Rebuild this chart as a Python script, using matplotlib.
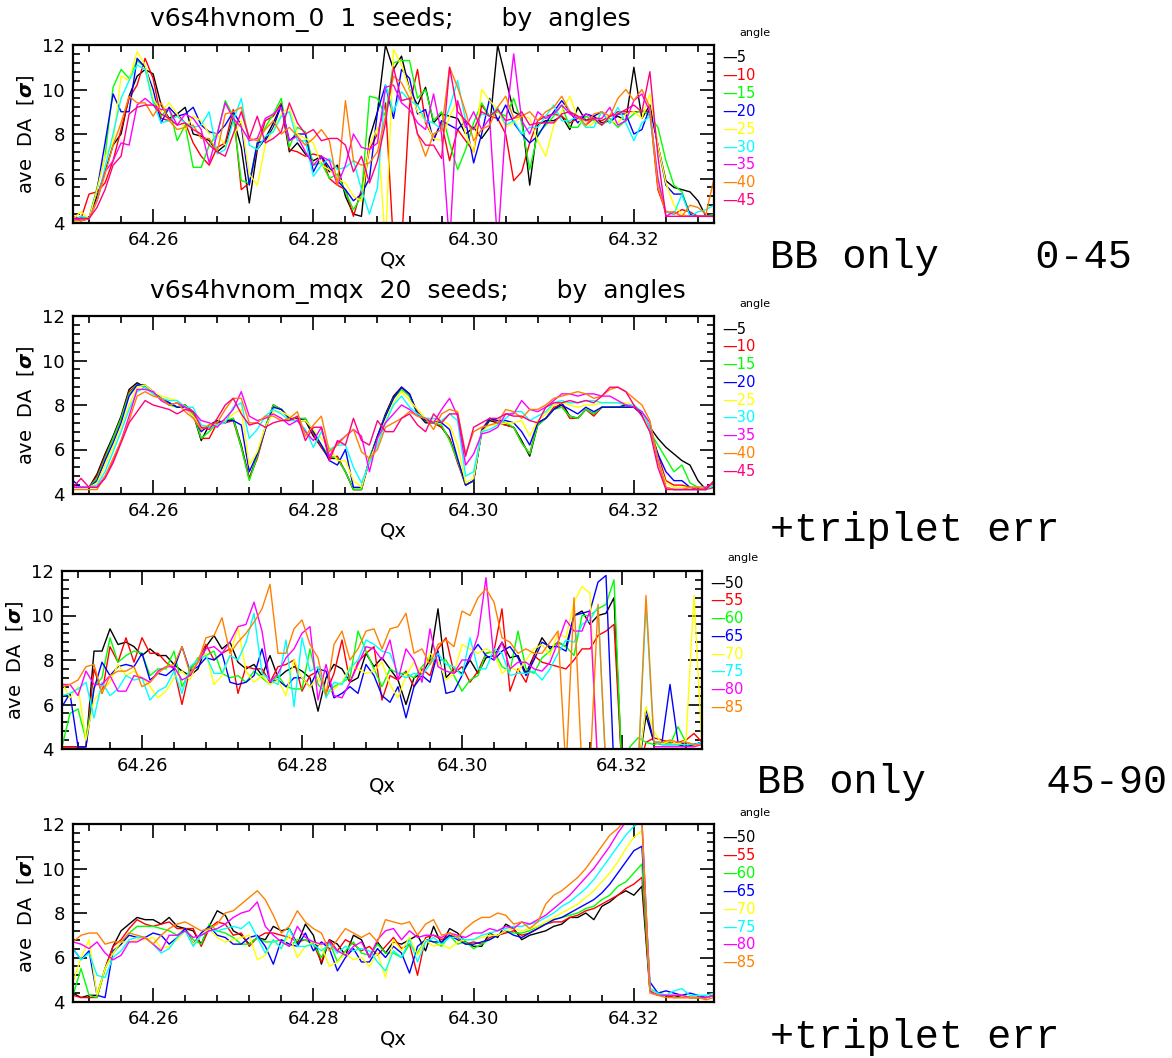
import numpy as np
import matplotlib.pyplot as plt
from matplotlib.ticker import MultipleLocator, FormatStrFormatter

W, H = 1172, 1058

qx = np.linspace(64.25, 64.33, 81)

angles_lo = ['5', '10', '15', '20', '25', '30', '35', '40', '45']
angles_hi = ['50', '55', '60', '65', '70', '75', '80', '85']
colors = ['#000000', '#ff0000', '#00ff00', '#0000ff', '#ffff00',
          '#00ffff', '#ff00ff', '#ff8000', '#ff0080']

# ---- BB only, angles 0-45 (1 seed)
bb_lo_05 = [4.2, 4.1, 4.2, 5.2, 6.3, 7.5, 8.0, 9.7, 10.6, 10.9,
            10.7, 9.3, 8.7, 8.9, 9.2, 8.0, 7.9, 7.7, 7.2, 7.5,
            8.7, 7.4, 4.9, 7.3, 7.8, 8.5, 9.3, 7.2, 7.6, 7.1,
            6.8, 7.0, 6.3, 6.6, 5.2, 4.4, 4.3, 7.8, 9.0, 12.0,
            10.9, 11.5, 10.0, 9.3, 10.1, 8.5, 8.9, 8.8, 8.7, 8.0,
            8.3, 7.8, 8.3, 12.0, 10.5, 9.0, 8.8, 5.7, 8.4, 8.6,
            8.6, 8.8, 8.2, 9.2, 8.6, 8.8, 8.5, 8.6, 8.8, 8.6,
            11.0, 8.7, 9.3, 7.5, 5.9, 5.6, 5.5, 5.4, 5.0, 4.3, 4.3]
bb_lo_10 = [4.3, 4.2, 5.3, 5.4, 5.8, 6.8, 8.2, 9.6, 10.2, 11.4,
            10.5, 8.7, 8.6, 8.9, 8.5, 7.6, 7.0, 6.6, 7.4, 7.6,
            9.1, 5.5, 5.8, 7.4, 8.6, 8.8, 9.4, 7.3, 7.2, 7.0,
            7.1, 7.0, 6.0, 5.7, 5.5, 4.3, 5.5, 7.3, 8.0, 9.4,
            3.0, 3.0, 9.3, 10.9, 8.5, 7.8, 8.5, 6.8, 8.2, 7.7,
            7.2, 9.3, 8.8, 8.7, 8.0, 5.9, 6.3, 7.6, 8.6, 8.8,
            8.9, 8.8, 8.5, 8.7, 8.4, 8.7, 8.6, 8.8, 9.0, 9.0,
            9.0, 9.0, 9.0, 5.5, 4.5, 4.4, 4.6, 4.5, 4.3, 4.3, 4.3]
bb_lo_15 = [4.1, 4.3, 4.2, 5.6, 7.0, 10.1, 10.9, 10.5, 11.3, 11.0,
            9.5, 8.8, 9.2, 7.7, 8.4, 6.5, 6.5, 7.5, 8.0, 9.5,
            8.8, 5.9, 5.8, 7.6, 8.3, 8.9, 9.6, 7.4, 8.3, 8.1,
            6.6, 6.7, 6.0, 6.2, 5.4, 4.6, 5.2, 9.7, 9.6, 8.8,
            11.2, 11.3, 11.3, 9.6, 10.0, 8.6, 9.0, 7.6, 6.4, 7.3,
            8.5, 9.4, 8.8, 9.0, 8.8, 9.6, 8.5, 6.4, 8.0, 8.4,
            8.8, 9.3, 8.3, 8.3, 8.8, 8.6, 8.4, 8.7, 8.3, 8.6,
            8.9, 9.1, 8.8, 8.3, 6.8, 5.7, 5.4, 4.4, 4.3, 4.3, 4.4]
bb_lo_20 = [4.2, 4.2, 4.2, 5.5, 7.6, 9.8, 9.0, 9.0, 11.4, 11.0,
            10.0, 8.5, 9.2, 8.8, 8.9, 9.2, 8.4, 8.1, 8.0, 8.4,
            9.0, 8.4, 5.7, 7.6, 7.7, 8.3, 9.3, 7.7, 8.0, 8.0,
            6.3, 7.0, 6.5, 5.9, 5.5, 5.0, 5.3, 6.0, 9.0, 10.2,
            8.7, 10.9, 10.5, 8.9, 9.1, 7.7, 8.6, 8.4, 8.2, 8.6,
            6.7, 8.0, 9.6, 8.6, 9.3, 8.5, 8.0, 7.6, 7.9, 8.5,
            9.0, 9.5, 9.0, 8.5, 8.9, 8.8, 9.0, 8.5, 8.9, 8.9,
            8.0, 8.2, 9.2, 7.5, 5.7, 5.3, 5.3, 4.4, 4.3, 4.3, 4.3]
bb_lo_25 = [4.2, 4.5, 4.2, 5.5, 7.0, 7.6, 10.6, 10.4, 11.7, 11.1,
            9.6, 9.0, 9.4, 8.9, 8.2, 8.8, 8.6, 8.0, 8.0, 7.5,
            7.9, 8.6, 6.2, 5.7, 7.5, 8.2, 8.9, 9.2, 8.0, 7.8,
            7.6, 6.6, 6.4, 6.0, 5.8, 5.2, 5.0, 7.5, 8.3, 3.0,
            11.8, 11.1, 10.0, 9.0, 8.6, 7.8, 7.7, 8.8, 9.5, 8.0,
            7.2, 10.0, 9.5, 9.1, 8.3, 8.5, 8.8, 8.7, 7.7, 7.0,
            8.4, 9.0, 9.7, 8.7, 8.3, 8.5, 9.0, 8.6, 8.5, 8.9,
            9.0, 8.7, 9.8, 7.5, 5.8, 4.8, 4.4, 4.3, 4.3, 4.3, 4.3]
bb_lo_30 = [4.1, 4.3, 4.2, 5.0, 6.5, 8.0, 9.6, 10.4, 11.1, 10.9,
            9.4, 8.5, 8.6, 8.8, 8.5, 8.3, 8.4, 9.0, 7.1, 7.3,
            8.6, 9.6, 7.5, 7.3, 7.9, 8.1, 8.8, 9.0, 7.7, 7.7,
            6.1, 6.6, 6.9, 6.4, 6.5, 6.8, 5.5, 4.4, 5.6, 10.2,
            9.0, 9.9, 9.5, 9.3, 8.6, 8.5, 8.2, 9.2, 10.4, 8.6,
            8.2, 8.9, 8.8, 9.2, 8.4, 8.6, 8.0, 8.3, 8.3, 8.8,
            9.3, 8.6, 8.6, 8.8, 8.3, 8.3, 9.0, 8.5, 9.2, 8.5,
            7.7, 8.5, 8.8, 6.0, 4.5, 4.4, 5.3, 4.3, 4.5, 4.6, 4.8]
bb_lo_35 = [4.1, 4.2, 4.2, 5.0, 6.3, 6.8, 7.6, 7.5, 9.3, 9.6,
            9.3, 9.1, 9.1, 8.4, 8.9, 8.7, 8.2, 6.7, 8.0, 9.4,
            8.7, 8.3, 7.7, 7.8, 8.7, 8.9, 9.2, 7.7, 7.9, 7.2,
            6.6, 7.0, 6.8, 5.7, 6.6, 8.0, 7.4, 7.3, 7.6, 10.1,
            10.2, 9.4, 9.1, 8.5, 8.2, 9.8, 8.0, 3.0, 9.5, 8.3,
            9.0, 8.2, 8.7, 3.0, 8.4, 11.6, 8.6, 8.0, 9.0, 8.7,
            8.9, 9.3, 8.9, 8.7, 8.9, 8.7, 8.7, 9.2, 8.4, 8.6,
            9.5, 9.8, 9.0, 6.0, 4.3, 4.5, 4.3, 4.3, 4.3, 4.3, 4.3]
bb_lo_40 = [4.1, 4.1, 4.2, 5.0, 6.2, 7.5, 8.5, 9.7, 9.4, 9.4,
            8.8, 9.4, 8.6, 8.2, 8.3, 8.4, 7.8, 7.8, 7.2, 8.9,
            9.0, 9.2, 7.8, 7.7, 8.2, 8.6, 8.0, 8.3, 7.9, 7.5,
            7.8, 8.2, 7.7, 5.7, 9.5, 6.8, 6.6, 6.7, 7.2, 8.8,
            10.6, 10.3, 9.6, 8.0, 7.0, 8.0, 8.2, 11.0, 10.1, 9.0,
            7.7, 8.2, 8.4, 9.2, 9.7, 8.7, 8.8, 9.0, 8.6, 9.0,
            9.2, 9.7, 9.0, 8.8, 8.4, 8.9, 9.0, 8.8, 9.6, 10.0,
            9.5, 10.0, 9.2, 5.6, 4.5, 4.5, 4.3, 4.8, 4.7, 4.4, 6.0]
bb_lo_45 = [4.2, 4.2, 4.2, 4.7, 5.5, 6.6, 7.0, 8.9, 9.2, 9.3,
            9.3, 8.9, 8.7, 8.4, 8.5, 8.2, 8.0, 7.5, 7.2, 7.0,
            8.0, 9.0, 7.8, 8.8, 7.6, 7.8, 8.1, 9.4, 8.5, 8.0,
            8.2, 7.7, 7.8, 7.8, 7.5, 6.3, 7.0, 5.8, 6.8, 8.5,
            11.0, 9.5, 9.6, 8.0, 7.5, 7.5, 6.9, 11.0, 9.0, 8.6,
            8.2, 9.0, 8.8, 9.1, 8.6, 8.7, 9.0, 8.4, 8.5, 8.5,
            8.5, 8.9, 9.0, 8.8, 8.6, 8.7, 8.4, 8.8, 8.9, 9.1,
            9.3, 9.0, 10.8, 7.0, 4.3, 4.3, 4.3, 4.3, 4.3, 4.3, 4.3]

# ---- + triplet errors, angles 0-45 (20 seeds)
tr_lo_05 = [4.4, 4.3, 4.3, 4.9, 5.8, 6.6, 7.5, 8.7, 9.0, 8.8,
            8.6, 8.3, 8.1, 7.9, 8.0, 7.6, 6.4, 7.1, 7.3, 7.2,
            7.4, 6.2, 4.7, 5.7, 7.0, 8.0, 7.8, 7.4, 7.3, 7.3,
            6.6, 6.1, 5.6, 5.6, 5.0, 4.2, 4.2, 5.6, 6.6, 7.6,
            8.4, 8.8, 8.5, 7.6, 7.2, 7.2, 7.0, 6.5, 5.5, 4.4,
            4.6, 6.8, 7.3, 7.2, 7.1, 7.0, 6.4, 5.7, 7.1, 7.4,
            7.8, 8.1, 7.5, 7.4, 7.8, 7.6, 7.9, 7.9, 7.9, 8.0,
            7.9, 7.6, 7.0, 6.5, 6.1, 5.8, 5.5, 5.3, 4.6, 4.2, 4.5]
tr_lo_10 = [4.3, 4.3, 4.3, 4.8, 5.7, 6.5, 7.4, 8.6, 8.9, 8.8,
            8.6, 8.3, 8.1, 7.9, 8.0, 7.7, 6.5, 6.5, 7.2, 7.2,
            7.3, 6.1, 4.7, 5.6, 6.9, 8.0, 7.8, 7.4, 7.3, 7.4,
            6.7, 6.1, 5.6, 5.7, 5.0, 4.2, 4.2, 5.5, 6.6, 7.5,
            8.3, 8.8, 8.4, 7.7, 7.3, 7.2, 7.0, 6.5, 5.4, 4.4,
            4.6, 6.9, 7.4, 7.2, 7.1, 7.0, 6.3, 5.8, 7.2, 7.4,
            7.9, 8.0, 7.4, 7.4, 7.8, 7.5, 7.9, 7.9, 7.9, 7.9,
            7.9, 7.6, 7.0, 5.8, 4.6, 4.4, 4.4, 4.3, 4.2, 4.2, 4.3]
tr_lo_15 = [4.3, 4.3, 4.3, 4.7, 5.6, 6.5, 7.4, 8.5, 8.9, 8.8,
            8.5, 8.3, 8.0, 7.9, 8.0, 7.6, 6.5, 6.8, 7.2, 7.3,
            7.4, 6.1, 4.6, 5.7, 7.0, 8.0, 7.8, 7.4, 7.4, 7.4,
            6.8, 6.2, 5.7, 5.6, 5.0, 4.2, 4.2, 5.6, 6.6, 7.5,
            8.3, 8.7, 8.4, 7.6, 7.3, 7.2, 7.1, 6.4, 5.5, 4.4,
            4.6, 6.8, 7.4, 7.3, 7.2, 7.0, 6.3, 5.8, 7.1, 7.4,
            7.8, 7.9, 7.5, 7.4, 7.8, 7.6, 7.9, 7.9, 7.9, 7.9,
            7.9, 7.6, 6.8, 6.2, 5.6, 5.0, 5.3, 4.5, 4.3, 4.3, 4.4]
tr_lo_20 = [4.6, 4.3, 4.3, 4.6, 5.5, 6.3, 7.2, 8.4, 8.9, 8.9,
            8.6, 8.3, 8.1, 7.9, 7.9, 7.5, 6.8, 7.1, 7.2, 7.3,
            7.3, 7.1, 5.0, 5.8, 6.9, 7.9, 7.8, 7.4, 7.4, 7.3,
            6.8, 6.2, 5.5, 5.3, 6.0, 4.3, 4.3, 5.5, 6.6, 7.5,
            8.3, 8.8, 8.5, 7.6, 7.3, 7.3, 7.2, 6.9, 5.6, 4.4,
            4.6, 6.8, 7.4, 7.3, 7.3, 7.2, 6.8, 6.2, 7.2, 7.4,
            7.8, 8.0, 7.8, 7.6, 7.9, 7.7, 7.9, 7.9, 7.9, 7.9,
            7.9, 7.6, 6.8, 5.8, 5.0, 4.6, 4.6, 4.3, 4.3, 4.3, 4.4]
tr_lo_25 = [4.3, 4.3, 4.3, 4.5, 5.3, 6.1, 7.0, 8.0, 8.8, 8.9,
            8.6, 8.4, 8.3, 8.2, 7.9, 7.5, 7.0, 7.1, 7.1, 7.3,
            7.6, 7.8, 5.3, 5.9, 7.0, 7.7, 7.7, 7.5, 7.3, 7.3,
            6.9, 6.5, 6.1, 5.5, 5.5, 4.6, 4.3, 5.5, 6.4, 7.3,
            8.1, 8.6, 8.2, 7.8, 7.4, 7.3, 7.3, 7.1, 6.2, 4.5,
            4.7, 6.8, 7.1, 7.1, 7.2, 7.2, 7.3, 6.6, 7.3, 7.6,
            8.0, 8.1, 8.0, 7.9, 8.0, 8.0, 8.1, 8.1, 8.1, 8.1,
            8.0, 7.7, 6.8, 5.5, 4.5, 4.3, 4.3, 4.3, 4.3, 4.3, 4.4]
tr_lo_30 = [4.3, 4.3, 4.3, 4.4, 5.0, 5.9, 6.8, 7.8, 8.6, 8.8,
            8.5, 8.3, 8.2, 8.2, 7.9, 7.9, 7.1, 7.0, 7.1, 7.2,
            7.9, 8.1, 6.5, 6.9, 7.5, 7.8, 7.6, 7.3, 7.3, 6.9,
            6.1, 6.8, 6.0, 6.2, 6.2, 5.2, 4.5, 5.4, 6.2, 7.2,
            8.0, 8.4, 7.9, 7.6, 7.4, 7.4, 7.3, 7.6, 7.3, 4.8,
            5.0, 6.8, 6.9, 7.1, 7.4, 7.7, 7.7, 7.3, 7.5, 7.7,
            8.1, 8.2, 8.1, 8.1, 8.2, 8.2, 8.1, 8.1, 8.1, 8.0,
            8.0, 7.7, 7.0, 5.6, 4.3, 4.2, 4.2, 4.2, 4.2, 4.2, 4.4]
tr_lo_35 = [4.3, 4.3, 4.3, 4.3, 4.8, 5.5, 6.4, 7.5, 8.7, 8.7,
            8.6, 8.2, 8.0, 8.1, 7.9, 7.7, 7.3, 7.2, 7.0, 7.4,
            7.8, 8.6, 7.5, 7.3, 7.4, 7.6, 7.4, 7.1, 7.3, 6.8,
            6.4, 7.0, 5.7, 6.3, 6.6, 6.9, 6.6, 5.0, 6.5, 7.2,
            7.6, 8.0, 7.8, 7.5, 7.4, 7.2, 7.8, 8.3, 7.5, 5.3,
            5.8, 6.7, 6.8, 7.0, 7.6, 7.6, 8.2, 7.8, 7.7, 7.9,
            8.2, 8.5, 8.5, 8.4, 8.5, 8.5, 8.4, 8.4, 8.2, 8.0,
            7.9, 7.7, 7.2, 5.5, 4.3, 4.2, 4.2, 4.2, 4.2, 4.3, 4.5]
tr_lo_40 = [4.2, 4.2, 4.2, 4.2, 4.8, 5.6, 6.4, 7.3, 8.4, 8.6,
            8.4, 8.3, 8.0, 8.1, 7.7, 7.4, 6.9, 7.1, 7.2, 7.8,
            8.3, 8.3, 7.2, 7.2, 7.5, 7.5, 7.3, 7.4, 7.7, 6.6,
            7.1, 7.5, 5.9, 6.2, 6.6, 6.9, 5.9, 5.6, 6.0, 7.0,
            7.2, 7.4, 7.7, 7.5, 7.4, 6.9, 7.6, 7.8, 7.7, 5.8,
            6.8, 7.0, 7.1, 7.2, 7.8, 7.7, 7.4, 7.8, 7.8, 8.0,
            8.3, 8.4, 8.5, 8.6, 8.5, 8.3, 8.4, 8.7, 8.8, 8.6,
            8.3, 8.0, 7.3, 5.5, 4.3, 4.2, 4.2, 4.3, 4.3, 4.2, 4.6]
tr_lo_45 = [4.3, 4.7, 4.3, 4.3, 4.7, 5.4, 6.3, 7.2, 7.7, 8.2,
            8.0, 7.9, 7.8, 7.6, 7.8, 7.7, 7.0, 6.9, 7.4, 8.0,
            8.3, 7.6, 7.1, 7.2, 7.0, 7.2, 7.3, 7.3, 7.5, 6.4,
            7.0, 7.0, 5.5, 6.4, 6.2, 7.4, 6.4, 6.2, 7.3, 6.8,
            6.8, 7.4, 7.6, 7.1, 6.8, 7.6, 7.2, 7.6, 7.6, 5.7,
            7.0, 7.2, 7.4, 7.4, 7.6, 7.5, 7.5, 7.3, 7.2, 7.9,
            8.1, 8.1, 8.2, 8.1, 8.2, 8.1, 8.4, 8.8, 8.8, 8.6,
            8.0, 7.5, 6.8, 5.2, 4.2, 4.2, 4.2, 4.2, 4.2, 4.2, 4.6]

# ---- BB only, angles 45-90
bb_hi_50 = [4.1, 4.1, 4.1, 4.1, 8.4, 8.4, 9.4, 8.7, 8.8, 8.6,
            8.2, 8.5, 8.2, 8.2, 7.8, 7.5, 7.3, 7.6, 8.6, 9.1,
            8.5, 8.8, 7.9, 7.6, 7.8, 7.3, 8.2, 7.2, 7.5, 7.7,
            7.5, 7.2, 5.7, 7.2, 7.8, 7.6, 7.0, 7.2, 8.3, 7.7,
            8.1, 7.6, 7.1, 6.0, 7.2, 7.4, 8.0, 10.3, 7.2, 7.6,
            7.4, 8.0, 7.4, 8.1, 8.2, 8.8, 8.1, 8.2, 7.4, 8.2,
            9.0, 8.5, 8.8, 8.6, 10.0, 10.2, 9.6, 10.0, 10.1, 10.8,
            3.0, 3.0, 3.0, 5.5, 4.3, 4.2, 4.2, 4.2, 4.1, 4.2, 4.3]
bb_hi_55 = [4.1, 4.1, 4.1, 4.1, 7.6, 6.5, 8.6, 7.9, 9.0, 7.9,
            9.0, 8.3, 8.3, 7.9, 7.6, 6.0, 7.6, 8.0, 8.7, 8.0,
            8.3, 8.5, 6.5, 7.7, 7.6, 7.6, 7.0, 7.7, 7.8, 8.0,
            6.6, 7.3, 7.5, 6.5, 7.4, 8.9, 7.0, 7.9, 8.3, 8.6,
            6.2, 7.3, 7.1, 7.5, 6.8, 7.6, 7.3, 8.5, 9.0, 7.4,
            7.7, 7.0, 7.5, 8.3, 8.4, 10.3, 6.6, 7.6, 7.0, 8.2,
            7.9, 7.8, 7.7, 7.6, 8.0, 8.5, 8.5, 9.1, 9.3, 9.6,
            3.0, 3.0, 3.0, 4.3, 4.5, 4.4, 4.3, 4.3, 4.4, 4.7, 4.3]
bb_hi_60 = [4.1, 5.6, 5.8, 4.4, 6.8, 7.2, 9.0, 7.9, 8.2, 8.4,
            8.3, 7.3, 7.6, 7.6, 8.4, 6.8, 7.5, 8.1, 8.2, 8.4,
            7.4, 7.2, 7.3, 7.0, 7.5, 7.2, 6.9, 7.3, 6.8, 6.7,
            6.7, 8.5, 6.9, 6.5, 6.8, 7.0, 7.2, 9.3, 8.4, 7.6,
            6.8, 7.6, 7.4, 7.4, 7.2, 7.7, 8.1, 8.0, 8.0, 7.3,
            6.6, 7.1, 7.3, 8.3, 8.4, 7.7, 7.5, 9.3, 7.6, 7.4,
            8.1, 8.4, 8.8, 8.6, 8.2, 10.0, 10.0, 10.3, 10.5, 11.6,
            3.0, 4.1, 4.5, 4.3, 4.2, 4.3, 4.2, 5.0, 4.3, 4.2, 4.2]
bb_hi_65 = [5.9, 6.5, 4.1, 4.1, 6.7, 7.9, 7.3, 7.7, 7.8, 7.7,
            8.3, 7.1, 7.4, 7.3, 7.6, 8.6, 7.5, 7.7, 8.1, 8.0,
            8.3, 7.0, 6.9, 7.0, 7.3, 8.5, 7.0, 7.1, 6.8, 7.2,
            7.2, 6.8, 7.6, 7.5, 6.3, 6.5, 6.8, 6.5, 7.8, 7.3,
            6.4, 6.1, 6.8, 5.4, 6.8, 7.3, 7.0, 8.4, 6.5, 6.6,
            7.3, 8.2, 8.7, 8.2, 8.0, 8.4, 8.6, 8.1, 7.3, 8.0,
            8.8, 8.6, 8.6, 8.4, 10.0, 10.1, 10.2, 11.5, 11.8, 3.0,
            3.0, 3.0, 3.0, 5.8, 4.3, 4.3, 6.9, 4.3, 4.2, 4.2, 4.3]
bb_hi_70 = [7.0, 6.3, 6.8, 4.4, 6.2, 6.6, 7.0, 7.8, 7.3, 7.5,
            7.2, 6.8, 6.3, 6.6, 7.2, 7.5, 7.1, 8.0, 8.3, 6.9,
            7.3, 8.2, 9.5, 7.5, 7.0, 7.3, 6.9, 7.1, 6.4, 8.0,
            7.2, 6.8, 7.2, 6.5, 6.7, 7.0, 7.7, 7.6, 7.4, 7.5,
            7.9, 6.9, 6.3, 7.3, 7.9, 7.4, 8.3, 8.0, 7.1, 7.4,
            8.7, 8.5, 8.3, 8.5, 8.3, 7.4, 7.7, 7.5, 8.0, 8.5,
            8.7, 8.2, 9.2, 9.0, 10.6, 11.3, 11.0, 3.0, 3.0, 3.0,
            3.0, 3.0, 3.0, 5.9, 4.8, 4.2, 4.4, 4.2, 4.4, 10.9, 4.1]
bb_hi_75 = [6.4, 6.5, 6.7, 7.0, 5.4, 7.0, 6.4, 6.7, 7.3, 7.1,
            7.2, 6.2, 6.6, 6.8, 7.5, 6.5, 7.7, 8.0, 8.2, 7.4,
            7.4, 8.2, 8.0, 8.8, 10.1, 7.4, 7.1, 6.9, 8.9, 5.9,
            9.0, 7.5, 7.7, 6.3, 7.0, 6.9, 7.6, 8.0, 8.9, 8.7,
            8.4, 8.3, 7.4, 7.2, 7.4, 7.3, 7.8, 8.3, 7.8, 7.7,
            7.3, 9.0, 7.6, 7.6, 8.5, 8.3, 7.3, 7.4, 7.4, 7.5,
            7.1, 7.6, 8.3, 8.9, 8.8, 9.6, 9.8, 10.4, 3.0, 3.0,
            3.0, 3.0, 3.0, 10.5, 4.3, 4.2, 4.2, 4.2, 4.2, 4.2, 4.3]
bb_hi_80 = [6.9, 6.9, 6.4, 7.5, 6.9, 6.9, 7.3, 6.6, 6.6, 7.3,
            7.2, 7.0, 7.5, 7.7, 7.7, 7.1, 7.3, 7.9, 8.5, 8.6,
            8.3, 8.8, 9.5, 9.6, 10.6, 9.3, 7.0, 7.4, 8.1, 8.5,
            9.2, 9.5, 6.2, 7.8, 6.4, 6.3, 7.0, 7.8, 8.6, 8.5,
            8.0, 8.9, 7.1, 8.5, 8.0, 7.0, 9.4, 7.7, 7.5, 7.4,
            8.0, 8.0, 9.1, 11.7, 8.0, 8.8, 7.6, 7.9, 7.9, 7.6,
            7.5, 7.9, 8.8, 9.8, 9.3, 9.3, 10.2, 3.0, 3.0, 3.0,
            3.0, 3.0, 3.0, 3.0, 4.1, 4.1, 4.1, 4.1, 4.1, 4.1, 4.2]
bb_hi_85 = [6.8, 6.9, 7.1, 7.7, 7.8, 6.5, 7.3, 7.5, 7.5, 7.7,
            6.8, 7.0, 7.4, 7.7, 7.8, 8.6, 7.4, 7.9, 9.0, 9.1,
            9.9, 8.3, 8.8, 9.2, 9.7, 10.3, 11.4, 8.3, 8.3, 9.4,
            9.8, 8.7, 8.1, 6.4, 8.7, 9.3, 8.0, 8.5, 9.3, 9.4,
            8.5, 9.4, 9.5, 10.1, 8.3, 8.5, 7.8, 8.7, 8.9, 8.6,
            10.2, 10.0, 10.8, 11.2, 10.6, 9.0, 8.8, 8.3, 8.5, 8.3,
            8.3, 8.8, 9.3, 3.0, 10.8, 3.0, 3.0, 10.5, 3.0, 3.0,
            3.0, 3.0, 3.0, 10.9, 4.3, 4.3, 4.4, 4.3, 4.3, 4.2, 4.2]

# ---- + triplet errors, angles 45-90
tr_hi_50 = [4.4, 4.2, 4.3, 4.3, 5.5, 6.5, 7.2, 7.5, 7.8, 7.7,
            7.7, 7.5, 7.8, 7.4, 7.3, 7.2, 6.6, 7.4, 8.1, 7.9,
            7.2, 7.0, 6.6, 6.9, 6.8, 7.4, 7.2, 7.3, 6.6, 7.5,
            7.0, 5.7, 6.8, 6.6, 6.1, 7.0, 6.8, 6.0, 6.7, 6.2,
            6.7, 6.6, 6.8, 7.0, 6.3, 7.4, 6.6, 7.3, 7.1, 6.7,
            6.5, 6.5, 7.1, 6.9, 7.5, 7.3, 6.8, 7.0, 7.1, 7.2,
            7.4, 7.5, 7.8, 7.8, 8.0, 7.7, 8.3, 8.5, 8.8, 9.0,
            8.8, 9.2, 4.5, 4.3, 4.3, 4.2, 4.3, 4.2, 4.2, 4.2, 4.3]
tr_hi_55 = [4.3, 4.2, 4.2, 4.2, 5.5, 6.5, 6.8, 7.3, 7.7, 7.5,
            7.4, 7.5, 7.6, 7.3, 7.3, 7.3, 6.5, 7.3, 7.6, 7.5,
            7.0, 7.1, 6.5, 6.9, 7.1, 7.1, 7.0, 6.9, 6.7, 6.8,
            6.6, 5.8, 6.8, 6.3, 6.8, 6.6, 6.3, 6.5, 6.1, 6.5,
            6.9, 6.4, 6.6, 5.2, 6.9, 7.0, 6.8, 7.0, 6.9, 6.6,
            6.7, 6.6, 6.9, 7.0, 7.1, 7.2, 7.0, 7.1, 7.3, 7.5,
            7.6, 7.6, 7.8, 7.9, 8.1, 8.2, 8.4, 8.6, 8.8, 9.1,
            9.3, 9.6, 4.6, 4.3, 4.3, 4.2, 4.2, 4.2, 4.2, 4.2, 4.3]
tr_hi_60 = [4.3, 5.5, 4.3, 4.2, 5.5, 6.2, 6.6, 7.1, 7.4, 7.4,
            7.4, 7.3, 7.2, 7.0, 7.3, 6.8, 6.6, 7.5, 7.2, 7.1,
            6.9, 6.6, 6.6, 6.9, 6.7, 6.7, 6.8, 6.5, 6.8, 6.8,
            6.6, 6.0, 6.7, 5.8, 6.3, 6.7, 6.2, 6.1, 6.6, 6.2,
            6.2, 6.0, 6.6, 6.2, 6.8, 6.7, 6.5, 7.0, 6.6, 6.7,
            6.4, 6.6, 6.8, 7.0, 7.2, 7.1, 7.1, 7.2, 7.4, 7.5,
            7.7, 7.8, 7.9, 8.0, 8.2, 8.3, 8.6, 8.8, 9.2, 9.4,
            9.8, 10.2, 4.6, 4.4, 4.3, 4.3, 4.3, 4.2, 4.2, 4.2, 4.3]
tr_hi_65 = [6.4, 5.9, 6.3, 4.3, 4.2, 6.3, 6.6, 7.0, 6.9, 6.9,
            7.1, 7.0, 6.6, 6.9, 7.3, 6.6, 7.1, 7.4, 7.0, 6.9,
            6.6, 6.6, 6.9, 7.0, 6.5, 5.7, 6.8, 6.6, 6.5, 7.1,
            6.3, 6.7, 6.4, 5.4, 6.0, 6.4, 5.8, 5.8, 6.4, 6.0,
            6.5, 6.2, 5.3, 6.5, 6.8, 6.7, 6.7, 7.0, 6.8, 6.6,
            6.6, 6.7, 6.8, 7.0, 7.2, 7.0, 6.9, 7.1, 7.3, 7.5,
            7.7, 7.8, 8.0, 8.2, 8.4, 8.6, 8.9, 9.3, 9.8, 10.3,
            10.8, 11.0, 4.9, 4.4, 4.5, 4.4, 4.3, 4.4, 4.3, 4.2, 4.3]
tr_hi_70 = [4.9, 6.0, 6.8, 4.3, 5.5, 6.2, 6.7, 6.7, 6.8, 6.8,
            6.9, 6.4, 6.5, 6.8, 7.2, 6.6, 7.0, 7.3, 6.9, 6.7,
            6.8, 6.9, 7.0, 5.9, 6.1, 6.8, 6.4, 7.0, 6.0, 6.5,
            6.7, 6.5, 5.6, 5.8, 6.2, 5.9, 6.0, 5.6, 6.2, 5.1,
            6.8, 6.3, 6.9, 6.1, 6.8, 6.5, 6.6, 6.4, 6.7, 6.8,
            6.8, 6.9, 7.0, 7.0, 7.2, 7.3, 7.2, 7.3, 7.4, 7.6,
            7.8, 8.0, 8.2, 8.4, 8.7, 9.0, 9.4, 9.8, 10.3, 10.9,
            11.4, 11.7, 4.6, 4.3, 4.3, 4.3, 4.3, 4.2, 4.2, 4.2, 4.3]
tr_hi_75 = [6.4, 5.9, 6.2, 5.2, 5.1, 6.0, 6.3, 6.8, 6.9, 6.9,
            6.6, 6.2, 6.4, 6.9, 7.2, 6.5, 7.0, 7.2, 7.2, 7.3,
            7.4, 7.3, 7.6, 6.9, 6.2, 6.8, 6.4, 7.3, 6.5, 6.5,
            6.6, 6.3, 6.6, 6.2, 6.5, 6.3, 6.4, 6.3, 5.8, 5.4,
            6.3, 6.0, 6.8, 5.8, 6.7, 6.9, 6.6, 6.9, 6.9, 6.8,
            6.8, 7.0, 7.1, 7.2, 7.3, 7.4, 7.4, 7.5, 7.6, 7.8,
            8.0, 8.3, 8.5, 8.8, 9.1, 9.5, 10.0, 10.5, 11.0, 11.5,
            11.9, 12.1, 4.6, 4.4, 4.3, 4.5, 4.6, 4.3, 4.3, 4.3, 4.4]
tr_hi_80 = [6.7, 6.6, 6.4, 6.7, 6.2, 5.9, 6.1, 6.7, 6.7, 6.9,
            6.6, 6.3, 7.0, 7.0, 7.2, 6.9, 7.0, 7.2, 7.3, 7.5,
            7.8, 8.0, 8.1, 8.5, 7.4, 7.0, 6.7, 6.5, 7.4, 6.9,
            6.7, 6.6, 6.7, 6.3, 6.1, 6.5, 6.7, 6.0, 6.8, 7.2,
            7.3, 6.8, 7.2, 6.9, 7.0, 7.0, 6.9, 7.1, 7.0, 6.9,
            7.1, 7.1, 7.3, 7.2, 7.4, 7.3, 7.6, 7.5, 7.7, 7.9,
            8.2, 8.5, 8.8, 9.2, 9.6, 10.0, 10.5, 11.0, 11.6, 12.1,
            12.2, 12.2, 4.5, 4.3, 4.3, 4.3, 4.3, 4.2, 4.2, 4.2, 4.3]
tr_hi_85 = [6.7, 7.0, 7.1, 7.1, 6.6, 6.7, 6.7, 7.1, 7.0, 6.9,
            6.6, 7.0, 7.3, 7.5, 7.6, 7.4, 7.2, 7.3, 7.5, 8.0,
            8.1, 8.4, 8.7, 9.0, 8.6, 7.9, 7.1, 7.4, 8.1, 7.6,
            7.3, 7.1, 6.3, 6.8, 7.3, 7.1, 6.9, 7.1, 6.7, 7.7,
            7.6, 7.5, 7.6, 7.0, 7.5, 7.7, 7.0, 7.1, 6.9, 7.3,
            7.6, 7.8, 7.8, 8.0, 7.9, 7.5, 7.6, 7.3, 7.6, 8.4,
            8.8, 9.0, 9.3, 9.6, 10.0, 10.5, 11.0, 11.5, 11.8, 12.2,
            12.2, 12.2, 4.4, 4.3, 4.2, 4.2, 4.2, 4.2, 4.2, 4.1, 4.2]

bb_lo = [bb_lo_05, bb_lo_10, bb_lo_15, bb_lo_20, bb_lo_25,
         bb_lo_30, bb_lo_35, bb_lo_40, bb_lo_45]
tr_lo = [tr_lo_05, tr_lo_10, tr_lo_15, tr_lo_20, tr_lo_25,
         tr_lo_30, tr_lo_35, tr_lo_40, tr_lo_45]
bb_hi = [bb_hi_50, bb_hi_55, bb_hi_60, bb_hi_65,
         bb_hi_70, bb_hi_75, bb_hi_80, bb_hi_85]
tr_hi = [tr_hi_50, tr_hi_55, tr_hi_60, tr_hi_65,
         tr_hi_70, tr_hi_75, tr_hi_80, tr_hi_85]

fig = plt.figure(figsize=(W / 100, H / 100), dpi=100)
fig.patch.set_facecolor('white')


def px(x, y):
    # pixel position (from top-left) -> figure fraction
    return x / W, 1 - y / H


def panel(left, top, width, series, labels, title, leg_x, leg_y):
    height = 178
    ax = fig.add_axes([left / W, 1 - (top + height) / H, width / W, height / H])
    for vals, c in zip(series, colors):
        ax.plot(qx, vals, color=c, lw=1.0)
    ax.set_xlim(64.25, 64.33)
    ax.set_ylim(4, 12)
    ax.xaxis.set_minor_locator(MultipleLocator(0.004))
    ax.xaxis.set_major_formatter(FormatStrFormatter('%.2f'))
    ax.yaxis.set_major_locator(MultipleLocator(2))
    ax.yaxis.set_minor_locator(MultipleLocator(0.4))
    ax.set_xticks([64.26, 64.28, 64.30, 64.32])
    ax.tick_params(which='both', direction='in', top=True, right=True,
                   width=1.2, labelsize=13)
    ax.tick_params(which='major', length=10, pad=6)
    ax.tick_params(which='minor', length=5)
    for s in ax.spines.values():
        s.set_linewidth(1.6)
    ax.set_xlabel('Qx', fontsize=14, labelpad=1)
    ax.set_ylabel(r'ave  DA  [$\boldsymbol{\sigma}$]', fontsize=14, labelpad=4)
    if title:
        fig.text(*px(150, top - 25), title, fontsize=18, ha='left', va='center')
    fig.text(*px(leg_x + 33, leg_y - 25), 'angle', fontsize=8, ha='center', va='center')
    for k, (lab, c) in enumerate(zip(labels, colors)):
        fig.text(*px(leg_x, leg_y + 17.8 * k), '\u2014' + lab, color=c,
                 fontsize=10.5, ha='left', va='center')
    return ax


panel(73, 45, 641, bb_lo, angles_lo, 'v6s4hvnom_0  1  seeds;      by  angles', 722, 58)
panel(73, 316, 641, tr_lo, angles_lo, 'v6s4hvnom_mqx  20  seeds;      by  angles', 722, 329)
panel(62, 571, 640, bb_hi, angles_hi, None, 710, 583)
panel(73, 824, 641, tr_hi, angles_hi, None, 722, 838)

mono = dict(family='Liberation Mono', fontsize=29, ha='left', va='baseline')
fig.text(*px(770, 268), 'BB only    0-45', **mono)
fig.text(*px(770, 541), '+triplet err', **mono)
fig.text(*px(757, 793), 'BB only     45-90', **mono)
fig.text(*px(770, 1048), '+triplet err', **mono)

fig.savefig('out.png', dpi=100, facecolor='white')
